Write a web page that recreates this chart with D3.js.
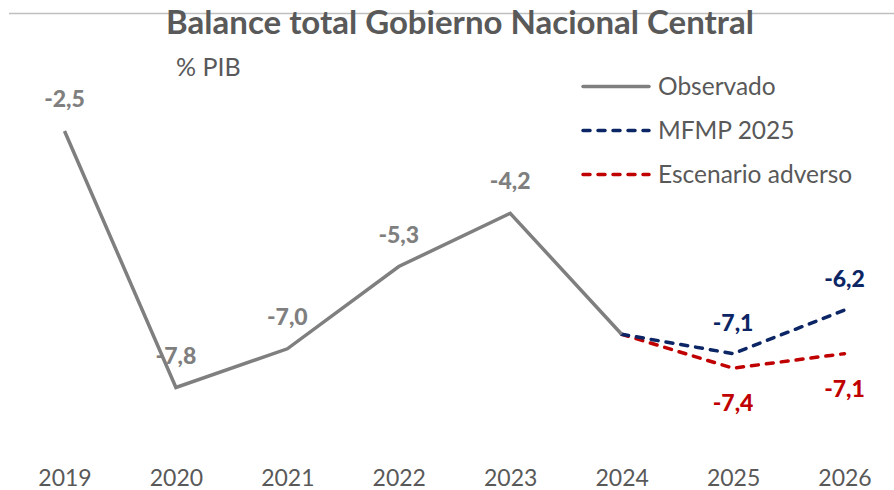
<!DOCTYPE html>
<html>
<head>
<meta charset="utf-8">
<script src="https://cdn.jsdelivr.net/npm/d3@7"></script>
<style>
  html, body { margin: 0; padding: 0; background: #fff; }
  svg { display: block; font-family: Lato, "Open Sans", sans-serif; }
</style>
</head>
<body>
<svg id="chart" width="894" height="490"></svg>
<script>
// Balance total del Gobierno Nacional Central (% del PIB)
const years = ["2019", "2020", "2021", "2022", "2023", "2024", "2025", "2026"];
const observado = [-2.5, -7.8, -7.0, -5.3, -4.2, -6.7, null, null];
const mfmp = [null, null, null, null, null, -6.7, -7.1, -6.2];
const adverso = [null, null, null, null, null, -6.7, -7.4, -7.1];
// Which points carry a value label (2024 is shown unlabelled)
const labelObs = [true, true, true, true, true, false, false, false];
const labelProj = [false, false, false, false, false, false, true, true];

const seriesNames = ["Observado", "MFMP 2025", "Escenario adverso"];
const colors = { obs: "#7f7f7f", mfmp: "#0b2565", adv: "#c00000" };

const svg = d3.select("#chart");
const fmt = v => d3.format(".1f")(v).replace(".", ",").replace("−", "-");

const x = d3.scalePoint().domain(years).range([64.5, 844.5]);
const y = d3.scaleLinear().domain([0, -10]).range([10, 494]);

// thin rule across the top, behind the title
svg.append("line")
  .attr("x1", 9).attr("x2", 894).attr("y1", 13.5).attr("y2", 13.5)
  .attr("stroke", "#bfbfbf").attr("stroke-width", 1.5);

svg.append("text")
  .attr("x", 460).attr("y", 34)
  .attr("text-anchor", "middle")
  .attr("font-weight", 700).attr("font-size", 33)
  .attr("fill", "#595959")
  .text("Balance total Gobierno Nacional Central");

svg.append("text")
  .attr("x", 176).attr("y", 76)
  .attr("font-size", 25).attr("fill", "#595959")
  .text("% PIB");

// x axis: year labels only
const axis = svg.append("g")
  .attr("transform", "translate(0,470)")
  .call(d3.axisBottom(x).tickSize(0).tickPadding(0));
axis.select(".domain").remove();
axis.selectAll("text")
  .attr("font-family", "Lato, sans-serif")
  .attr("font-size", 23).attr("fill", "#595959")
  .attr("dy", "0.71em");

const line = d3.line()
  .defined(d => d.v !== null)
  .x(d => x(d.year))
  .y(d => y(d.v));

const toPts = arr => years.map((yr, i) => ({ year: yr, v: arr[i], i }));

const dash = "7,8";

svg.append("path").datum(toPts(adverso))
  .attr("d", line).attr("fill", "none")
  .attr("stroke", colors.adv).attr("stroke-width", 3.5)
  .attr("stroke-dasharray", dash).attr("stroke-linecap", "round");

svg.append("path").datum(toPts(mfmp))
  .attr("d", line).attr("fill", "none")
  .attr("stroke", colors.mfmp).attr("stroke-width", 3.5)
  .attr("stroke-dasharray", dash).attr("stroke-linecap", "round");

svg.append("path").datum(toPts(observado))
  .attr("d", line).attr("fill", "none")
  .attr("stroke", colors.obs).attr("stroke-width", 3.5);

// value labels
const labels = svg.append("g")
  .attr("font-weight", 900).attr("font-size", 23)
  .attr("text-anchor", "middle");

toPts(observado).filter(d => labelObs[d.i]).forEach(d => {
  labels.append("text")
    .attr("x", x(d.year)).attr("y", y(d.v) - 32)
    .attr("dy", "0.35em").attr("fill", colors.obs)
    .text(fmt(d.v));
});
toPts(mfmp).filter(d => labelProj[d.i]).forEach(d => {
  labels.append("text")
    .attr("x", x(d.year)).attr("y", y(d.v) - 31)
    .attr("dy", "0.35em").attr("fill", colors.mfmp)
    .text(fmt(d.v));
});
toPts(adverso).filter(d => labelProj[d.i]).forEach(d => {
  labels.append("text")
    .attr("x", x(d.year)).attr("y", y(d.v) + 35)
    .attr("dy", "0.35em").attr("fill", colors.adv)
    .text(fmt(d.v));
});

// legend
const legendItems = [
  { name: seriesNames[0], color: colors.obs, dashed: false },
  { name: seriesNames[1], color: colors.mfmp, dashed: true },
  { name: seriesNames[2], color: colors.adv, dashed: true }
];
const legend = svg.append("g");
legendItems.forEach((it, i) => {
  const ly = 86.5 + i * 44;
  const ln = legend.append("line")
    .attr("x1", 583).attr("x2", 649).attr("y1", ly).attr("y2", ly)
    .attr("stroke", it.color).attr("stroke-width", 3.5)
    .attr("stroke-linecap", "round");
  if (it.dashed) ln.attr("stroke-dasharray", dash);
  legend.append("text")
    .attr("x", 658).attr("y", ly).attr("dy", "0.35em")
    .attr("font-size", 24.5).attr("fill", "#595959")
    .text(it.name);
});
</script>
</body>
</html>
